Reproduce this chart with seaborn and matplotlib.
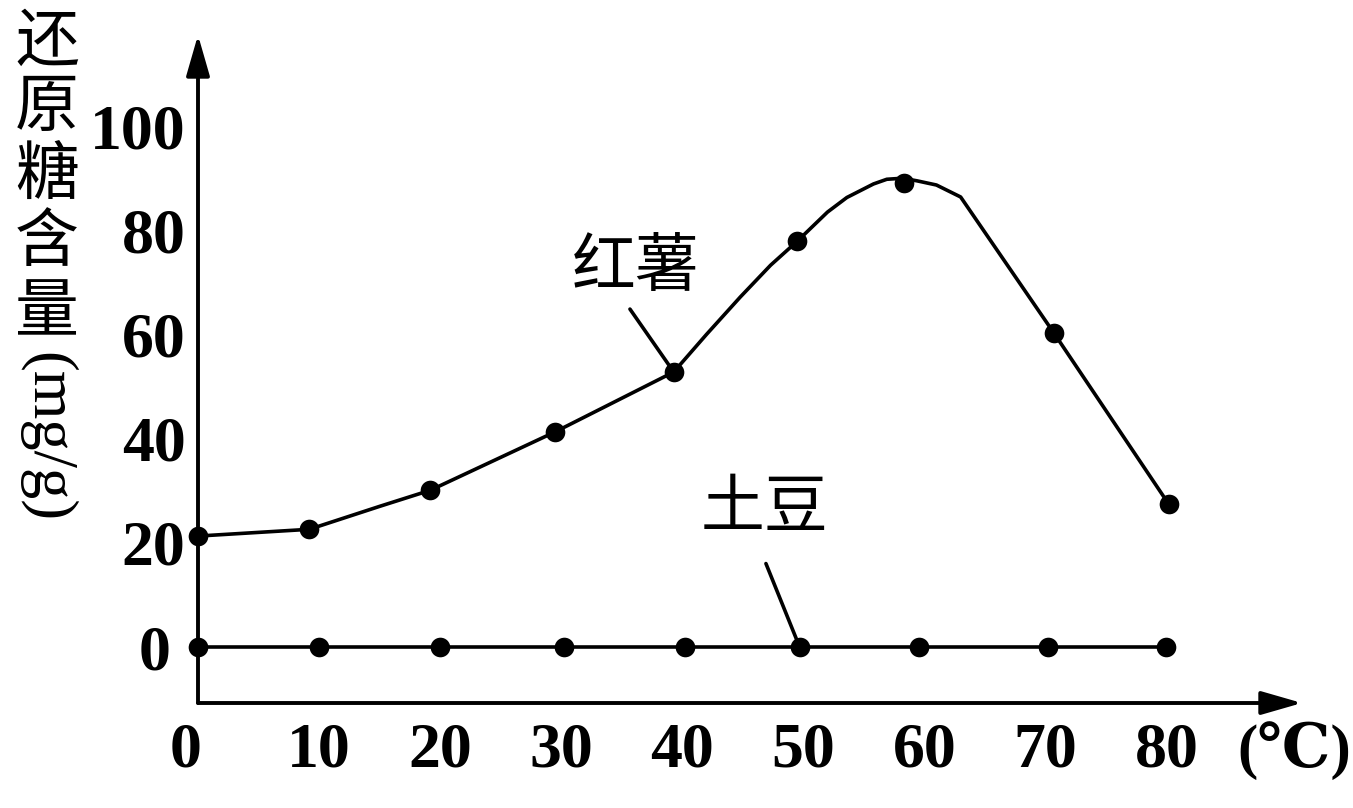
import matplotlib
matplotlib.use("Agg")
import matplotlib.pyplot as plt
import seaborn as sns
import pandas as pd
from matplotlib.transforms import ScaledTranslation

# 红薯: measured points (temperature, reducing sugar mg/g)
temp_sp = [0, 9.2, 19.2, 29.5, 39.3, 49.5, 58.3, 70.7, 80.2]
sugar_sp = [21.3, 22.6, 30.1, 41.3, 52.8, 77.9, 89.1, 60.3, 27.4]
# points read along the hand drawn curve through them
curve_t = [0, 9.2, 15.0, 19.2, 29.5, 39.3, 42.0, 44.8, 47.3, 49.5, 52.0, 53.6, 55.8,
           56.9, 58.2, 59.4, 61.0, 63.0, 70.7, 80.2]
curve_s = [21.3, 22.6, 27.0, 30.1, 41.3, 52.8, 60.0, 67.2, 73.3, 77.9, 83.5, 86.3, 88.9,
           89.8, 90.0, 89.5, 88.7, 86.4, 60.3, 27.4]

# 土豆
temp_po = [0, 10.0, 20.0, 30.2, 40.2, 49.7, 59.6, 70.2, 80.0]
sugar_po = [0, 0, 0, 0, 0, 0, 0, 0, 0]

xticks = [0, 10, 20, 30, 40, 50, 60, 70, 80]
yticks = [0, 20, 40, 60, 80, 100]
ylabel_chars = ["还", "原", "糖", "含", "量"]
ylabel_unit = "(mg/g)"
xlabel_unit = "(℃)"

sns.set_style("white")
plt.rcParams["font.family"] = ["Liberation Serif", "DejaVu Serif"]
for k in ["text.color", "xtick.color", "ytick.color", "axes.labelcolor"]:
    plt.rcParams[k] = "black"
CJK = ["Noto Sans CJK SC", "DejaVu Sans"]
NUM = ["Liberation Serif", "DejaVu Serif"]

W, H = 1353, 808
fig = plt.figure(figsize=(W / 100, H / 100), dpi=100)
ax = fig.add_axes([198 / W, (H - 703) / H, (1302 - 198) / W, (703 - 35) / H])
ax.set_xlim(0, 91.2)
ax.set_ylim(-10.75, 117.5)

df_sp = pd.DataFrame({"t": curve_t, "s": curve_s})
df_po = pd.DataFrame({"t": temp_po, "s": sugar_po})
sns.lineplot(data=df_sp, x="t", y="s", color="k", lw=2.6, ax=ax)
sns.lineplot(data=df_po, x="t", y="s", color="k", lw=2.6, ax=ax)
sns.scatterplot(x=temp_sp, y=sugar_sp, color="k", s=200, linewidth=0, zorder=3, clip_on=False, ax=ax)
sns.scatterplot(x=temp_po, y=sugar_po, color="k", s=200, linewidth=0, zorder=3, clip_on=False, ax=ax)

for s in ax.spines.values():
    s.set_visible(False)
arrow = dict(arrowstyle="-|>,head_length=1.25,head_width=0.36", lw=2.8, color="k",
             mutation_scale=20, shrinkA=0, shrinkB=0)
ax.annotate("", xy=(0, 1), xytext=(0, 0), xycoords="axes fraction", arrowprops=arrow, annotation_clip=False)
ax.annotate("", xy=(1, 0), xytext=(0, 0), xycoords="axes fraction", arrowprops=arrow, annotation_clip=False)

ax.set_xticks(xticks)
ax.set_yticks(yticks)
ax.set_xticklabels([str(v) for v in xticks], fontfamily=NUM, fontweight="bold", fontsize=46)
ax.set_yticklabels([str(v) for v in yticks], fontfamily=NUM, fontweight="bold", fontsize=46)
ax.tick_params(axis="both", direction="in", length=10, width=2.6, color="k", labelcolor="k")
ax.tick_params(axis="x", pad=14)
ax.tick_params(axis="y", pad=9)
ax.set_xlabel("")
ax.set_ylabel("")
# origin labels sit a little left in the original
lx = ax.get_xticklabels()[0]
lx.set_transform(lx.get_transform() + ScaledTranslation(-0.12, 0, fig.dpi_scale_trans))
ly = ax.get_yticklabels()[0]
ly.set_transform(ly.get_transform() + ScaledTranslation(-0.15, 0, fig.dpi_scale_trans))

# y label: stacked characters + rotated unit
for ch, yc in zip(ylabel_chars, [43, 108, 177, 243, 313]):
    fig.text(47 / W, 1 - yc / H, ch, fontfamily=CJK, fontsize=46, ha="center", va="center")
fig.text(46 / W, 1 - 437 / H, ylabel_unit, fontfamily=NUM, fontsize=45,
         rotation=270, ha="center", va="center")
fig.text(1294 / W, 1 - 751 / H, xlabel_unit, fontfamily=NUM, fontweight="bold", fontsize=44,
         ha="center", va="center")

# curve labels with leader lines
ax.annotate("红薯", xy=(temp_sp[4], sugar_sp[4]), xytext=(636, H - 268), textcoords="figure pixels",
            fontfamily=CJK, fontsize=46, ha="center", va="center",
            arrowprops=dict(arrowstyle="-", lw=2.6, color="k", relpos=(0.41, 0), shrinkA=4, shrinkB=0))
ax.annotate("土豆", xy=(temp_po[5], sugar_po[5]), xytext=(765, H - 509), textcoords="figure pixels",
            fontfamily=CJK, fontsize=46, ha="center", va="center",
            arrowprops=dict(arrowstyle="-", lw=2.6, color="k", relpos=(0.44, 0), shrinkA=14, shrinkB=0))

fig.savefig("out.png", dpi=100)
